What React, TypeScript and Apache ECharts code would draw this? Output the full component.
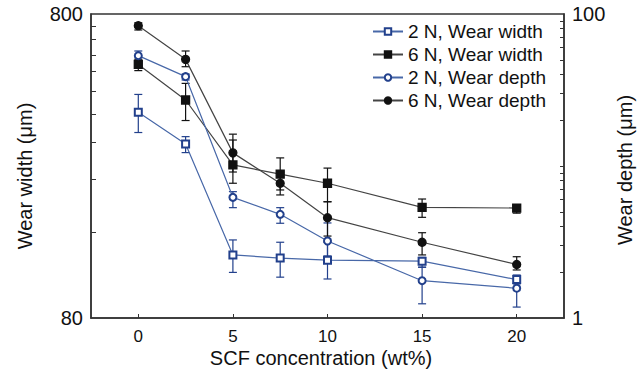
import React, { useEffect, useRef } from "react";
import * as echarts from "echarts";

const xValues = [0, 2.5, 5, 7.5, 10, 15, 20];

const width2N = [380, 299, 129, 126, 124, 123, 107];
const width2NLow = [326, 280, 113, 109, 107.5, 117.5, 103.5];
const width2NHigh = [435, 316, 144.5, 142, 142, 126.6, 110.8];

const width6N = [546, 417, 255, 238, 222, 185, 184];
const width6NLow = [521, 357, 222, 211, 193, 171.5, 177];
const width6NHigh = [568, 473, 308, 269, 249, 197, 188];

const depth2N = [53.2, 38.7, 6.22, 4.81, 3.21, 1.76, 1.57];
const depth2NLow = [49.1, 36.8, 5.32, 4.2, 2.56, 1.24, 1.18];
const depth2NHigh = [57.1, 40.3, 6.78, 5.32, 4.22, 2.16, 1.69];

const depth6N = [83.8, 50.3, 12.2, 7.69, 4.57, 3.15, 2.25];
const depth6NLow = [78.5, 45, 9.13, 6.45, 3.46, 2.6, 2.07];
const depth6NHigh = [87.6, 57.1, 16.2, 9.13, 5.82, 3.64, 2.53];

const xTickValues = [0, 5, 10, 15, 20];
const leftRange = [80, 800];
const leftTickValues = [153, 229, 303, 375, 446, 519, 586, 662, 730];
const rightRange = [1, 100];
const rightTickValues = [2, 3, 4, 5, 6, 7, 8, 9, 10, 20, 30, 40, 50, 60, 70, 80, 90];

const seriesNames = ["2 N, Wear width", "6 N, Wear width", "2 N, Wear depth", "6 N, Wear depth"];

const FONT = "'Liberation Sans', Arial, sans-serif";
const BLUE_LINE = "#4868a8";
const BLUE = "#22408c";
const BLACK_LINE = "#444444";
const BLACK = "#111111";
const AXIS = "#333333";

function errSeries(name: string, lows: number[], highs: number[], yAxisIndex: number, color: string) {
  return {
    type: "custom",
    name,
    xAxisIndex: 0,
    yAxisIndex,
    z: 1,
    silent: true,
    data: xValues.map((x, i) => [x, lows[i], highs[i]]),
    encode: { x: 0, y: [1, 2] },
    renderItem: (params: any, api: any) => {
      const x = api.value(0);
      const p1 = api.coord([x, api.value(1)]);
      const p2 = api.coord([x, api.value(2)]);
      const w = 4;
      const style = { stroke: color, lineWidth: 1.2, fill: null };
      return {
        type: "group",
        children: [
          { type: "line", shape: { x1: p1[0], y1: p1[1], x2: p2[0], y2: p2[1] }, style },
          { type: "line", shape: { x1: p1[0] - w, y1: p1[1], x2: p1[0] + w, y2: p1[1] }, style },
          { type: "line", shape: { x1: p2[0] - w, y1: p2[1], x2: p2[0] + w, y2: p2[1] }, style },
        ],
      };
    },
  };
}

function lineSeries(name: string, vals: number[], yAxisIndex: number, symbol: string, lineColor: string, markColor: string, size: number) {
  return {
    type: "line",
    name,
    xAxisIndex: 0,
    yAxisIndex,
    z: 3,
    data: xValues.map((x, i) => [x, vals[i]]),
    symbol,
    symbolSize: size,
    showAllSymbol: true,
    lineStyle: { color: lineColor, width: 1.2 },
    itemStyle: { color: markColor, borderColor: markColor, borderWidth: 1.3 },
  };
}

export default function App() {
  const ref = useRef<HTMLDivElement>(null);
  useEffect(() => {
    if (!ref.current) return;
    const chart = echarts.init(ref.current, null, { renderer: "svg" });
    const lg = Math.log10;
    const option: any = {
      animation: false,
      backgroundColor: "#ffffff",
      grid: {
        left: 91,
        right: 79,
        top: 14,
        bottom: 65,
        show: true,
        borderColor: AXIS,
        borderWidth: 1.5,
        backgroundColor: "transparent",
      },
      legend: {
        data: seriesNames,
        orient: "vertical",
        right: 92,
        top: 17,
        itemWidth: 30,
        itemHeight: 8,
        itemGap: 4,
        textStyle: { fontFamily: FONT, fontSize: 19, color: "#111" },
      },
      xAxis: [
        {
          type: "value",
          min: -2.5,
          max: 22.5,
          axisLine: { show: true, lineStyle: { color: AXIS, width: 1.5 } },
          axisTick: { show: true, inside: true, length: 4, customValues: xTickValues, lineStyle: { color: AXIS } },
          axisLabel: { customValues: xTickValues, fontFamily: FONT, fontSize: 17, color: "#111", margin: 10 },
          splitLine: { show: false },
        },
      ],
      yAxis: [
        { type: "log", logBase: 10, min: leftRange[0], max: leftRange[1], show: false, position: "left" },
        { type: "log", logBase: 10, min: rightRange[0], max: rightRange[1], show: false, position: "right" },
        {
          type: "value",
          position: "left",
          min: lg(leftRange[0]),
          max: lg(leftRange[1]),
          axisLine: { show: true, lineStyle: { color: AXIS, width: 1.5 } },
          axisTick: { show: true, inside: true, length: 5, customValues: leftTickValues.map(lg), lineStyle: { color: AXIS } },
          axisLabel: {
            customValues: leftRange.map(lg),
            formatter: (v: number) => String(Math.round(Math.pow(10, v))),
            fontFamily: FONT,
            fontSize: 20,
            color: "#111",
            margin: 8,
          },
          splitLine: { show: false },
        },
        {
          type: "value",
          position: "right",
          min: lg(rightRange[0]),
          max: lg(rightRange[1]),
          axisLine: { show: true, lineStyle: { color: AXIS, width: 1.5 } },
          axisTick: { show: true, inside: true, length: 4, customValues: rightTickValues.map(lg), lineStyle: { color: AXIS } },
          axisLabel: {
            customValues: rightRange.map(lg),
            formatter: (v: number) => String(Math.round(Math.pow(10, v))),
            fontFamily: FONT,
            fontSize: 20,
            color: "#111",
            margin: 8,
          },
          splitLine: { show: false },
        },
      ],
      graphic: [
        {
          type: "text",
          x: 25,
          y: 176,
          rotation: Math.PI / 2,
          style: { text: "Wear width (μm)", fontFamily: FONT, fontSize: 20, fill: "#111", textAlign: "center", textVerticalAlign: "middle" },
        },
        {
          type: "text",
          x: 625,
          y: 170,
          rotation: Math.PI / 2,
          style: { text: "Wear depth (μm)", fontFamily: FONT, fontSize: 20, fill: "#111", textAlign: "center", textVerticalAlign: "middle" },
        },
        {
          type: "text",
          x: 321,
          y: 358,
          style: { text: "SCF concentration (wt%)", fontFamily: FONT, fontSize: 20, fill: "#111", textAlign: "center", textVerticalAlign: "middle" },
        },
      ],
      series: [
        errSeries("e1", width2NLow, width2NHigh, 0, BLUE),
        errSeries("e2", width6NLow, width6NHigh, 0, BLACK),
        errSeries("e3", depth2NLow, depth2NHigh, 1, BLUE),
        errSeries("e4", depth6NLow, depth6NHigh, 1, BLACK),
        lineSeries(seriesNames[0], width2N, 0, "emptyRect", BLUE_LINE, BLUE, 7),
        lineSeries(seriesNames[1], width6N, 0, "rect", BLACK_LINE, BLACK, 8),
        lineSeries(seriesNames[2], depth2N, 1, "emptyCircle", BLUE_LINE, BLUE, 7),
        lineSeries(seriesNames[3], depth6N, 1, "circle", BLACK_LINE, BLACK, 8),
      ],
    };
    chart.setOption(option);
    return () => chart.dispose();
  }, []);
  return <div ref={ref} style={{ position: "fixed", left: 0, top: 0, width: 643, height: 383 }} />;
}
